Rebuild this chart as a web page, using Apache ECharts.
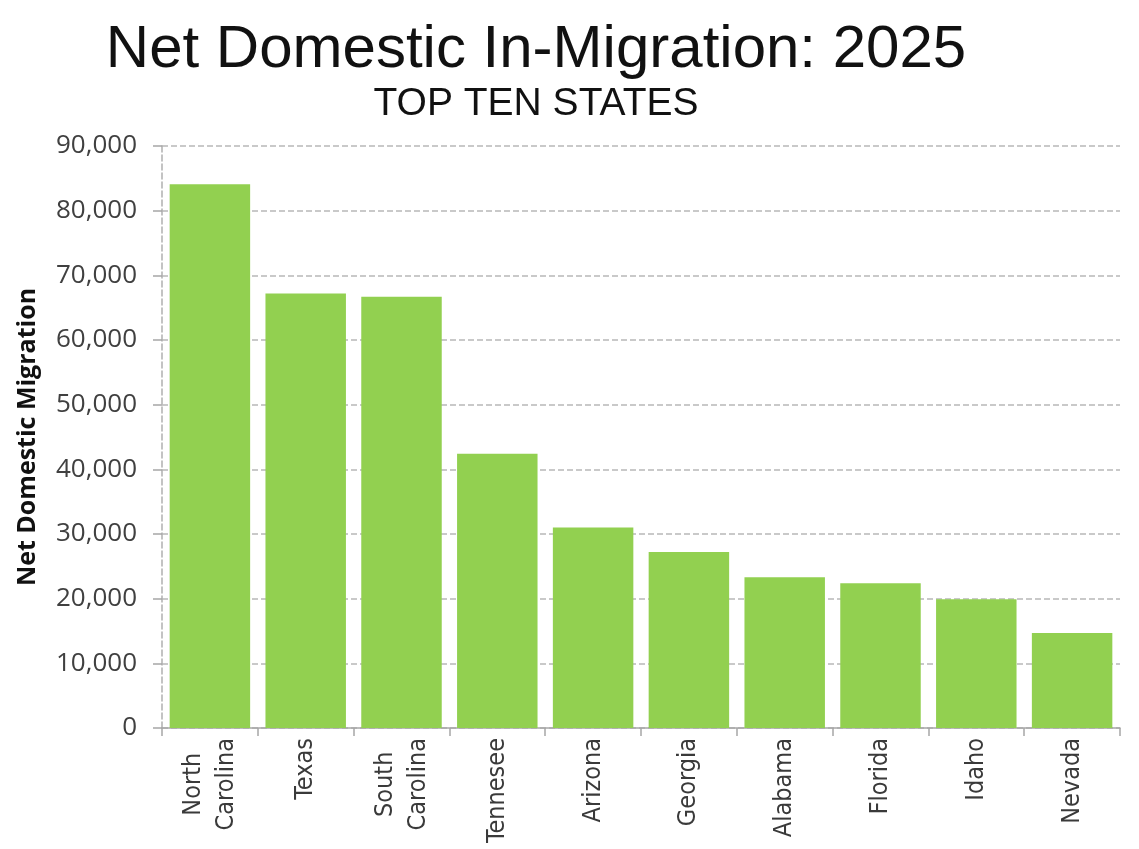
<!DOCTYPE html>
<html>
<head>
<meta charset="utf-8">
<title>Net Domestic In-Migration: 2025</title>
<script src="https://cdn.jsdelivr.net/npm/echarts@6/dist/echarts.min.js"></script>
<style>
  html, body { margin: 0; padding: 0; background: #fff; overflow: hidden; }
  #chart { width: 1139px; height: 849px; }
</style>
</head>
<body>
<div id="chart"></div>
<script>
// 数据
var states = ['North\nCarolina', 'Texas', 'South\nCarolina', 'Tennesee', 'Arizona',
              'Georgia', 'Alabama', 'Florida', 'Idaho', 'Nevada'];
var migration = [84100, 67200, 66700, 42400, 31000, 27200, 23300, 22400, 19900, 14700];
var yTicks = [0, 10000, 20000, 30000, 40000, 50000, 60000, 70000, 80000, 90000];

var myChart = echarts.init(document.getElementById('chart'));

var option = {
  backgroundColor: '#fff',
  animation: false,
  title: [{
    text: 'Net Domestic In-Migration: 2025',
    left: 536,
    top: 20,
    padding: 0,
    textAlign: 'center',
    textStyle: { fontFamily: 'Liberation Sans, Arial, sans-serif', fontSize: 60, fontWeight: 'normal', color: '#111' }
  }, {
    text: 'TOP TEN STATES',
    left: 536,
    top: 85,
    padding: 0,
    textAlign: 'center',
    textStyle: { fontFamily: 'Liberation Sans, Arial, sans-serif', fontSize: 39, fontWeight: 'normal', color: '#111' }
  }],
  grid: { left: 162, right: 19, top: 146, bottom: 121 },
  xAxis: {
    type: 'category',
    data: states,
    axisLine: { lineStyle: { color: '#a6a6a6', width: 1.5 } },
    axisTick: { show: true, length: 8, lineStyle: { color: '#a6a6a6', width: 1.5 } },
    axisLabel: {
      rotate: 90,
      margin: 10,
      interval: 0,
      color: '#3a3a3a',
      fontFamily: '"Liberation Sans Narrow", "DejaVu Sans Condensed", Arial, sans-serif',
      fontSize: 25,
      lineHeight: 33,
      formatter: function (v) {
        return v.split('\n').map(function (s) { return '{c|' + s + '}'; }).join('\n');
      },
      rich: { c: { align: 'center', lineHeight: 33 } }
    }
  },
  yAxis: {
    type: 'value',
    min: 0,
    max: yTicks[yTicks.length - 1],
    interval: yTicks[1] - yTicks[0],
    name: 'Net Domestic Migration',
    nameLocation: 'middle',
    nameRotate: 90,
    nameGap: 122,
    nameTextStyle: { fontFamily: '"Open Sans", sans-serif', fontSize: 25, fontWeight: 'bold', color: '#111' },
    axisLine: { show: true, lineStyle: { color: '#b0b0b0', type: 'dashed', width: 1.5 } },
    axisTick: { show: true, length: 9, lineStyle: { color: '#a6a6a6', width: 1.5 } },
    axisLabel: {
      margin: 25,
      color: '#404040',
      fontFamily: '"Open Sans", sans-serif',
      fontSize: 26,
      formatter: function (v) { return v.toLocaleString('en-US'); }
    },
    splitLine: { show: true, lineStyle: { color: '#b8b8b8', type: 'dashed', width: 1.5 } }
  },
  series: [{
    name: 'Net Domestic Migration',
    type: 'bar',
    data: migration,
    barCategoryGap: '16%',
    itemStyle: { color: '#92d050' }
  }]
};

myChart.setOption(option);
</script>
</body>
</html>
